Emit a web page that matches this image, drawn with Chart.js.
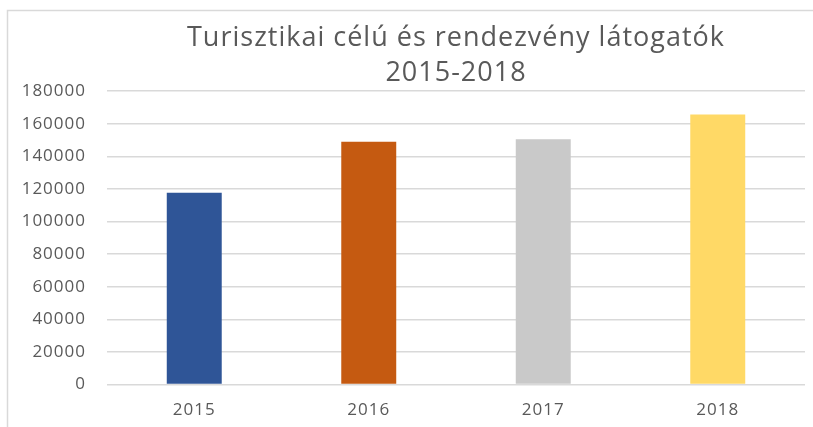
<!DOCTYPE html>
<html><head><meta charset="utf-8">
<script src="https://cdn.jsdelivr.net/npm/chart.js@4"></script>
<style>html,body{margin:0;padding:0;background:#fff}#wrap{width:813px;height:427px}</style>
</head><body><div id="wrap"><canvas id="c" width="813" height="427"></canvas></div>
<script>
const categories = ['2015', '2016', '2017', '2018'];
const visitors = [117600, 148900, 150400, 165700];
const barColors = ['#2F5597', '#C55A11', '#C9C9C9', '#FFD966'];
const titleLines = ['Turisztikai célú és rendezvény látogatók', '2015-2018'];
const yTicks = { min: 0, max: 180000, step: 20000 };

const borderPlugin = {
  id: 'frame',
  beforeDraw(chart) {
    const ctx = chart.ctx;
    ctx.save();
    ctx.fillStyle = '#fff';
    ctx.fillRect(0, 0, chart.width, chart.height);
    ctx.strokeStyle = '#D9D9D9';
    ctx.lineWidth = 1.5;
    ctx.beginPath();
    ctx.moveTo(7.5, chart.height);
    ctx.lineTo(7.5, 10.5);
    ctx.lineTo(chart.width, 10.5);
    ctx.stroke();
    ctx.restore();
    ctx.letterSpacing = '1px';
  }
};

new Chart(document.getElementById('c'), {
  type: 'bar',
  data: {
    labels: categories,
    datasets: [{ data: visitors, backgroundColor: barColors, borderWidth: 0,
      categoryPercentage: 1, barPercentage: 0.315 }]
  },
  options: {
    responsive: false,
    animation: false,
    devicePixelRatio: 1,
    layout: { padding: { top: 21, right: 8, bottom: 0, left: 0 } },
    plugins: {
      legend: { display: false },
      tooltip: { enabled: false },
      title: { display: true, fullSize: false, text: titleLines, color: '#595959',
        font: { family: 'Open Sans', size: 27, weight: 'normal', lineHeight: 1.28 },
        padding: { top: 0, bottom: 1 } }
    },
    scales: {
      x: {
        grid: { display: false, drawTicks: false },
        border: { display: false },
        ticks: { color: '#595959', font: { family: 'Open Sans', size: 17 }, padding: 15 },
        afterFit(s) { s.height = 42.5; }
      },
      y: {
        min: yTicks.min, max: yTicks.max,
        grid: { color: '#D9D9D9', lineWidth: 1.5, drawTicks: false },
        border: { display: false },
        ticks: { stepSize: yTicks.step, color: '#595959', font: { family: 'Open Sans', size: 17 }, padding: 21,
          callback: v => String(v) },
        afterFit(s) { s.width = 107; }
      }
    }
  },
  plugins: [borderPlugin]
});
</script></body></html>
